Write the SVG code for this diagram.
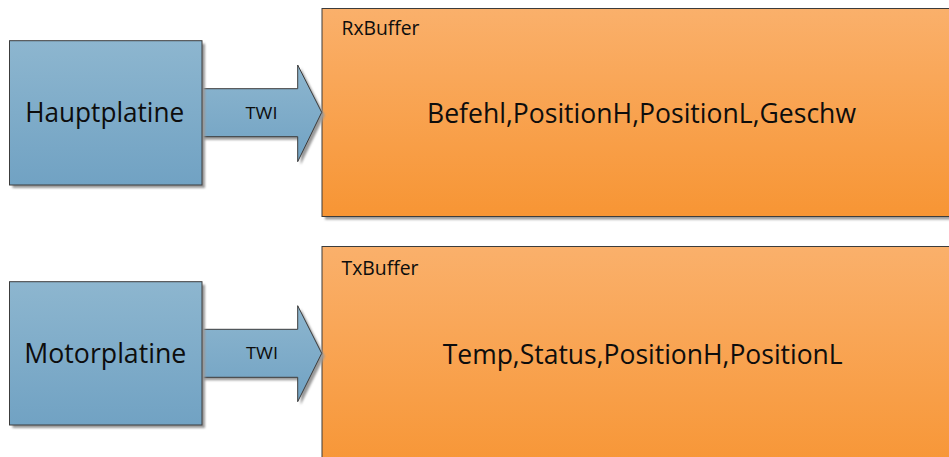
<svg xmlns="http://www.w3.org/2000/svg" width="949" height="457" viewBox="0 0 949 457">
  <defs>
    <linearGradient id="blueFill" x1="0" y1="0" x2="0" y2="1">
      <stop offset="0" stop-color="#8db6cf"/>
      <stop offset="1" stop-color="#71a2c3"/>
    </linearGradient>
    <linearGradient id="orangeFill" x1="0" y1="0" x2="0" y2="1">
      <stop offset="0" stop-color="#fab06b"/>
      <stop offset="1" stop-color="#f79534"/>
    </linearGradient>
    <filter id="soft" x="-10%" y="-10%" width="120%" height="120%">
      <feGaussianBlur stdDeviation="0.8"/>
    </filter>
  </defs>
  <style>
    .shadow { fill: #9a9a9a; filter: url(#soft); }
    .board { fill: url(#blueFill); stroke: #3c3c3c; stroke-width: 1; }
    .buffer { fill: url(#orangeFill); stroke: #3c3c3c; stroke-width: 1; }
    .arrow-fill { fill: url(#blueFill); stroke: none; }
    .arrow-edge { fill: none; stroke: #3c3c3c; stroke-width: 1; stroke-linejoin: miter; }
    .label { font-family: "Open Sans", "Liberation Sans", sans-serif; fill: #0d0d0d; }
    .big { font-size: 27px; text-anchor: middle; }
    .twi { font-size: 17px; text-anchor: middle; }
    .title { font-size: 20px; }
  </style>

  <rect width="949" height="457" fill="#ffffff"/>

  <!-- Upper row: main board sends the receive buffer over TWI -->
  <g id="rxbuffer">
    <rect class="shadow" x="325" y="11.5" width="640" height="208"/>
    <rect class="buffer" x="322" y="8.5" width="640" height="208"/>
    <text class="label title" x="341.5" y="35" textLength="78" lengthAdjust="spacingAndGlyphs">RxBuffer</text>
    <text class="label big" x="641.5" y="123.3" textLength="429" lengthAdjust="spacingAndGlyphs">Befehl,PositionH,PositionL,Geschw</text>
  </g>

  <!-- Lower row: motor board answers with the transmit buffer -->
  <g id="txbuffer">
    <rect class="shadow" x="325" y="249.5" width="640" height="230"/>
    <rect class="buffer" x="322" y="246.5" width="640" height="230"/>
    <text class="label title" x="341.5" y="275" textLength="77" lengthAdjust="spacingAndGlyphs">TxBuffer</text>
    <text class="label big" x="642.7" y="364" textLength="400" lengthAdjust="spacingAndGlyphs">Temp,Status,PositionH,PositionL</text>
  </g>

  <g id="connectors">
    <g id="twi-upper">
      <path class="shadow" d="M202,91.7 H300.7 V68 L324.7,115.3 L300.7,164.7 V139.7 H202 Z"/>
      <path class="arrow-fill" d="M201,88.7 H297.7 V65 L321.7,112.3 L297.7,161.7 V136.7 H201 Z"/>
      <path class="arrow-edge" d="M202,88.7 H297.7 V65 L321.7,112.3 L297.7,161.7 V136.7 H202"/>
      <text class="label twi" x="261.5" y="119" textLength="32" lengthAdjust="spacingAndGlyphs">TWI</text>
    </g>
    <g id="twi-lower">
      <path class="shadow" d="M202,332.3 H300.7 V308.7 L324.7,356.3 L300.7,404.7 V380.3 H202 Z"/>
      <path class="arrow-fill" d="M201,329.3 H297.7 V305.7 L321.7,353.3 L297.7,401.7 V377.3 H201 Z"/>
      <path class="arrow-edge" d="M202,329.3 H297.7 V305.7 L321.7,353.3 L297.7,401.7 V377.3 H202"/>
      <text class="label twi" x="262" y="358.5" textLength="32" lengthAdjust="spacingAndGlyphs">TWI</text>
    </g>
  </g>

  <g id="hauptplatine">
    <rect class="shadow" x="12.5" y="43.7" width="192.5" height="144.3"/>
    <rect class="board" x="9.5" y="40.7" width="192.5" height="144.3"/>
    <text class="label big" x="104.7" y="121.7" textLength="159" lengthAdjust="spacingAndGlyphs">Hauptplatine</text>
  </g>

  <g id="motorplatine">
    <rect class="shadow" x="12.5" y="284.7" width="192.5" height="143.3"/>
    <rect class="board" x="9.5" y="281.7" width="192.5" height="143.3"/>
    <text class="label big" x="105.3" y="362.8" textLength="162" lengthAdjust="spacingAndGlyphs">Motorplatine</text>
  </g>
</svg>
